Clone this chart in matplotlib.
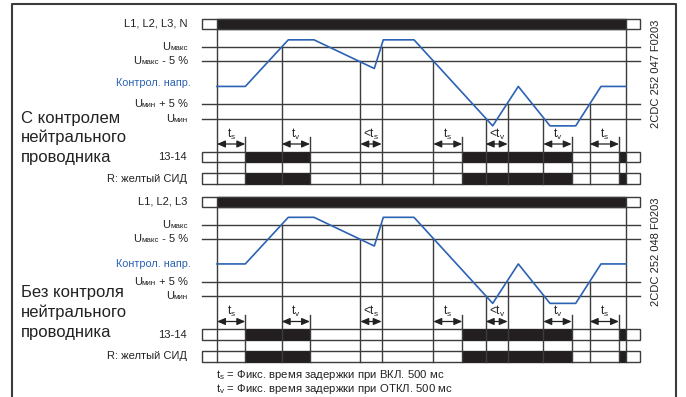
import matplotlib
matplotlib.use("Agg")
import matplotlib.pyplot as plt
from matplotlib.patches import Rectangle
from matplotlib.offsetbox import TextArea, HPacker, AnnotationBbox

plt.rcParams['font.family'] = ['Liberation Sans', 'DejaVu Sans']
plt.rcParams['mathtext.default'] = 'regular'

# voltage levels (Umin = 0, Umax = 100)
level_names = ['umax', 'umax5', 'umin5', 'umin']
level_values = [100, 80, 20, 0]
ctrl_value = 45

# supervised voltage waveform: time (px) and voltage
wave_t = [217, 245.3, 288.3, 314, 374.3, 383.3, 414, 492.7, 518.3, 550, 575.7, 601, 626]
wave_v = [45, 45, 110, 110, 70, 110, 110, -10, 45, -10, -10, 45, 45]

# relay 13-14 / LED on intervals
relay_on = [(245.3, 310), (462.3, 571.7), (619, 626)]

# vertical marker lines: time and where they start
vlines_t = [217, 245.3, 281.7, 310, 360.3, 381.7, 433.3, 462.3, 485.7, 507.7, 543.3, 571.7, 589.7, 619, 626]
vlines_from = ['bar', 'arrow', 'umax', 'arrow', 'umax5', 'umax', 'umax5', 'arrow', 'umin', 'umin5',
               'umin', 'arrow', 'umin5', 'arrow', 'bar']

# timing arrows
arrow_t0 = [217, 281.7, 360.3, 433.3, 485.7, 543.3, 589.7]
arrow_t1 = [245.3, 310, 381.7, 462.3, 507.7, 571.7, 619]
arrow_lbl = ['$t_s$', '$t_v$', '<$t_s$', '$t_s$', '<$t_v$', '$t_v$', '$t_s$']

panel_supply = ['L1, L2, L3, N', 'L1, L2, L3']
panel_title = [['С контролем', 'нейтрального', 'проводника'],
               ['Без контроля', 'нейтрального', 'проводника']]
panel_code = ['2CDC 252 047 F0203', '2CDC 252 048 F0203']
footer = ['$t_s$ = Фикс. время задержки при ВКЛ. 500 мс',
          '$t_v$ = Фикс. время задержки при ОТКЛ. 500 мс']

BLUE = '#2b62b3'
DARK = '#231f20'
LINE = '#3c3c3c'

fig = plt.figure(figsize=(6.86, 3.97), dpi=100)
ax = fig.add_axes([0, 0, 1, 1])
ax.set_xlim(0, 686)
ax.set_ylim(397, 0)
ax.axis('off')

# frame
ax.plot([11.5, 11.5, 675.5, 675.5], [397, 3.5, 3.5, 397], color=LINE, lw=1.5)

X0, X1 = 202, 640  # row boxes extent
LBL_X = 187


def vy(v, off):
    return off + 118.7 - v * 0.717


def u_label(y, sub, rest=''):
    parts = [TextArea('U', textprops=dict(fontsize=8, color='#222')),
             TextArea(sub, textprops=dict(fontsize=5.8, color='#222'))]
    if rest:
        parts.append(TextArea(rest, textprops=dict(fontsize=8, color='#222')))
    box = HPacker(children=parts, align='baseline', pad=0, sep=0)
    ab = AnnotationBbox(box, (LBL_X + 1, y), box_alignment=(1, 0.5), frameon=False, pad=0)
    ax.add_artist(ab)


for p, off in enumerate([0, 177.5]):
    bar_top, bar_bot = off + 19, off + 29.3
    arrow_y = off + 144
    row1 = (off + 151.7, off + 162.3)
    row2 = (off + 173, off + 184)
    bottom = row2[1]
    tops = {'bar': bar_bot, 'arrow': off + 137}
    for n, v in zip(level_names, level_values):
        tops[n] = vy(v, off)

    # supply bar
    ax.add_patch(Rectangle((X0, bar_top), X1 - X0, bar_bot - bar_top, fc='white', ec=LINE, lw=1))
    ax.add_patch(Rectangle((wave_t[0], bar_top), wave_t[-1] - wave_t[0], bar_bot - bar_top,
                           fc=DARK, ec=LINE, lw=1))

    # threshold lines
    for n, v in zip(level_names, level_values):
        ax.plot([X0, X1], [vy(v, off)] * 2, color=LINE, lw=1)

    # relay rows
    for r0, r1 in (row1, row2):
        ax.add_patch(Rectangle((X0, r0), X1 - X0, r1 - r0, fc='white', ec=LINE, lw=1))
        for a, b in relay_on:
            ax.add_patch(Rectangle((a, r0), b - a, r1 - r0, fc=DARK, ec=DARK, lw=0.5))

    # vertical markers
    for t, f in zip(vlines_t, vlines_from):
        ax.plot([t, t], [tops[f], bottom], color=LINE, lw=1)

    # waveform
    ax.plot(wave_t, [vy(v, off) for v in wave_v], color=BLUE, lw=1.2)

    # arrows
    for a, b, s in zip(arrow_t0, arrow_t1, arrow_lbl):
        ax.annotate('', xy=(b, arrow_y), xytext=(a, arrow_y),
                    arrowprops=dict(arrowstyle='<|-|>,head_length=0.7,head_width=0.3', color='#222',
                                    lw=0.9, shrinkA=0, shrinkB=0, mutation_scale=7))
        ax.text((a + b) / 2, arrow_y - 10, s, fontsize=8.5, ha='center', va='center', color='#222')

    # left labels
    ax.text(LBL_X, off + 24, panel_supply[p], fontsize=8, ha='right', va='center', color='#222')
    u_label(vy(100, off), 'макс')
    u_label(vy(80, off), 'макс', ' - 5 %')
    u_label(vy(20, off), 'мин', ' + 5 %')
    u_label(vy(0, off), 'мин')
    ax.text(191, vy(ctrl_value, off) - (3 if p == 0 else 0), 'Контрол. напр.', fontsize=7.8,
            ha='right', va='center', color=BLUE)
    ax.text(LBL_X, sum(row1) / 2, '13-14', fontsize=8, ha='right', va='center', color='#222')
    ax.text(LBL_X, sum(row2) / 2, 'R: желтый СИД', fontsize=8, ha='right', va='center', color='#222')

    ty = [119, 137.5, 157.5] if p == 0 else [293, 312.5, 332.5]
    for line, yy in zip(panel_title[p], ty):
        ax.text(21, yy, line, fontsize=12, ha='left', va='center', color='#222')

    ax.text(656, off + 74, panel_code[p], fontsize=8, rotation=90, ha='center', va='center', color='#222')

ax.text(216, 375, footer[0], fontsize=8.2, ha='left', va='center', color='#222')
ax.text(216, 389.5, footer[1], fontsize=8.2, ha='left', va='center', color='#222')

fig.savefig('out.png', dpi=100)
